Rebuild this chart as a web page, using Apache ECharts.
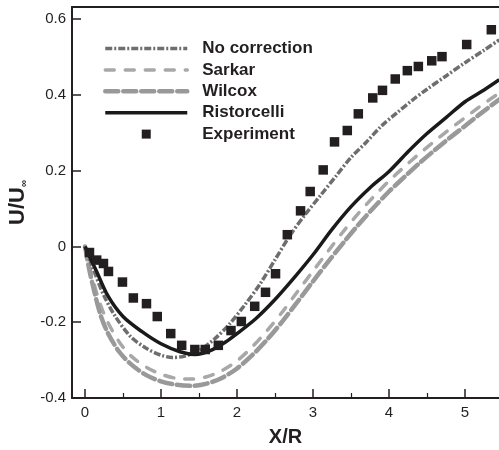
<!DOCTYPE html>
<html>
<head>
<meta charset="utf-8">
<script src="https://cdn.jsdelivr.net/npm/echarts@6/dist/echarts.min.js"></script>
<style>
html,body{margin:0;padding:0;background:#fff;}
#chart{width:499px;height:450px;}
</style>
</head>
<body>
<div id="chart"></div>
<script>
// ---- data ----
const seriesNames = ['No correction', 'Sarkar', 'Wilcox', 'Ristorcelli', 'Experiment'];
const xTickValues = [0, 1, 2, 3, 4, 5];
const xMinorTickValues = [0.5, 1.5, 2.5, 3.5, 4.5];
const yTickValues = [-0.4, -0.2, 0, 0.2, 0.4, 0.6];

const noCorrection = [[0,0],[0.1,-0.055],[0.25,-0.13],[0.4,-0.185],[0.6,-0.238],[0.8,-0.268],[1.0,-0.287],[1.15,-0.293],[1.3,-0.29],[1.5,-0.275],[1.7,-0.245],[1.9,-0.205],[2.1,-0.155],[2.3,-0.1],[2.5,-0.035],[2.7,0.03],[2.9,0.085],[3.1,0.135],[3.3,0.185],[3.5,0.235],[3.7,0.275],[3.9,0.318],[4.1,0.352],[4.3,0.385],[4.5,0.415],[4.75,0.45],[5.0,0.485],[5.25,0.518],[5.45,0.545]];
const sarkar = [[0,0],[0.05,-0.045],[0.1,-0.085],[0.2,-0.152],[0.3,-0.2],[0.45,-0.252],[0.6,-0.288],[0.8,-0.318],[1.0,-0.337],[1.2,-0.348],[1.4,-0.35],[1.6,-0.344],[1.8,-0.328],[2.0,-0.302],[2.2,-0.265],[2.4,-0.221],[2.6,-0.172],[2.8,-0.118],[3.0,-0.065],[3.2,-0.012],[3.4,0.04],[3.6,0.088],[3.8,0.132],[4.0,0.173],[4.2,0.21],[4.4,0.245],[4.6,0.278],[4.8,0.31],[5.0,0.34],[5.2,0.37],[5.45,0.405]];
const wilcox = [[0,0],[0.05,-0.055],[0.1,-0.1],[0.2,-0.178],[0.3,-0.228],[0.45,-0.278],[0.6,-0.31],[0.8,-0.339],[1.0,-0.356],[1.2,-0.365],[1.4,-0.368],[1.6,-0.362],[1.8,-0.347],[2.0,-0.322],[2.2,-0.287],[2.4,-0.245],[2.6,-0.197],[2.8,-0.145],[3.0,-0.092],[3.2,-0.04],[3.4,0.01],[3.6,0.058],[3.8,0.103],[4.0,0.145],[4.2,0.183],[4.4,0.22],[4.6,0.254],[4.8,0.287],[5.0,0.318],[5.2,0.35],[5.45,0.388]];
const ristorcelli = [[0,0],[0.05,-0.022],[0.15,-0.065],[0.3,-0.13],[0.5,-0.185],[0.75,-0.225],[1.0,-0.257],[1.25,-0.278],[1.45,-0.285],[1.65,-0.275],[1.85,-0.252],[2.0,-0.23],[2.25,-0.19],[2.5,-0.14],[2.75,-0.083],[3.0,-0.022],[3.25,0.045],[3.5,0.105],[3.75,0.155],[4.0,0.198],[4.25,0.25],[4.5,0.298],[4.75,0.34],[5.0,0.382],[5.25,0.413],[5.45,0.44]];
const experiment = [[0.059,-0.016],[0.154,-0.036],[0.243,-0.045],[0.309,-0.066],[0.493,-0.094],[0.636,-0.136],[0.809,-0.151],[0.951,-0.185],[1.128,-0.230],[1.272,-0.261],[1.445,-0.272],[1.582,-0.272],[1.754,-0.261],[1.921,-0.222],[2.057,-0.198],[2.233,-0.158],[2.375,-0.121],[2.507,-0.072],[2.662,0.031],[2.836,0.094],[2.963,0.145],[3.134,0.202],[3.283,0.276],[3.451,0.306],[3.596,0.350],[3.786,0.392],[3.914,0.412],[4.082,0.442],[4.241,0.464],[4.386,0.475],[4.562,0.490],[4.697,0.501],[5.022,0.533],[5.346,0.572]];

// ---- chart ----
const FONT = '"Liberation Sans", Arial, sans-serif';
const INK = '#231f20';
const X_MIN = -0.171, X_MAX = 5.447, Y_MIN = -0.4, Y_MAX = 0.632;
const hideSymbol = {opacity: 0, borderWidth: 0};

const styles = {
  noCorrection: {color: '#6e6e6e', width: 3.5, type: [7, 2, 2, 2]},
  sarkar: {color: '#a8a8a8', width: 3.5, type: [9, 11], cap: 'round'},
  wilcox: {color: '#999999', width: 4.5, type: [13, 5], cap: 'round'},
  ristorcelli: {color: '#1a1a1a', width: 3.5}
};

const chart = echarts.init(document.getElementById('chart'), null, {renderer: 'canvas'});
const option = {
  backgroundColor: '#fff',
  animation: false,
  textStyle: {fontFamily: FONT},
  grid: {left: 72, right: 0, top: 7, bottom: 52, containLabel: false, outerBoundsMode: 'none'},
  legend: {
    data: [
      {name: seriesNames[0], itemStyle: hideSymbol, lineStyle: styles.noCorrection},
      {name: seriesNames[1], itemStyle: hideSymbol, lineStyle: styles.sarkar},
      {name: seriesNames[2], itemStyle: hideSymbol, lineStyle: styles.wilcox},
      {name: seriesNames[3], itemStyle: hideSymbol, lineStyle: styles.ristorcelli},
      {name: seriesNames[4], icon: 'path://M0,0L10,0L10,10L0,10Z', itemStyle: {color: INK, opacity: 1}}
    ],
    orient: 'vertical',
    left: 103,
    top: 40,
    padding: 0,
    itemWidth: 82,
    itemHeight: 9,
    itemGap: 4.4,
    symbolKeepAspect: true,
    textStyle: {fontFamily: FONT, fontSize: 17, fontWeight: 'bold', color: INK, lineHeight: 17, padding: [0, 0, 0, 10]}
  },
  xAxis: [
    {
      type: 'value', min: X_MIN, max: X_MAX, position: 'bottom',
      name: 'X/R', nameLocation: 'middle', nameGap: 29,
      nameTextStyle: {fontFamily: FONT, fontSize: 20, fontWeight: 'bold', color: INK},
      axisLine: {show: true, onZero: false, lineStyle: {color: INK, width: 2}},
      axisTick: {show: true, inside: true, length: 9, lineStyle: {color: INK, width: 1.5}, customValues: xTickValues},
      axisLabel: {show: true, fontSize: 15, color: INK, margin: 7, fontFamily: FONT, customValues: xTickValues, formatter: v => String(v)},
      splitLine: {show: false}
    },
    {
      type: 'value', min: X_MIN, max: X_MAX, position: 'bottom',
      axisLine: {show: false, onZero: false},
      axisTick: {show: true, inside: true, length: 5, lineStyle: {color: INK, width: 1.2}, customValues: xMinorTickValues},
      axisLabel: {show: false},
      splitLine: {show: false}
    },
    {
      type: 'value', min: X_MIN, max: X_MAX, position: 'top',
      axisLine: {show: true, onZero: false, lineStyle: {color: INK, width: 2}},
      axisTick: {show: false}, axisLabel: {show: false}, splitLine: {show: false}
    }
  ],
  yAxis: [
    {
      type: 'value', min: Y_MIN, max: Y_MAX, position: 'left',
      name: 'U/U{sub|∞}', nameLocation: 'middle', nameGap: 41, nameRotate: 90,
      nameTextStyle: {fontFamily: FONT, fontSize: 22, fontWeight: 'bold', color: INK,
        rich: {sub: {fontSize: 10, fontFamily: FONT, color: INK, verticalAlign: 'bottom', padding: [9, 0, 0, 0]}}},
      axisLine: {show: true, onZero: false, lineStyle: {color: INK, width: 2}},
      axisTick: {show: true, inside: true, length: 9, lineStyle: {color: INK, width: 1.5}, customValues: yTickValues},
      axisLabel: {show: true, fontSize: 15, color: INK, margin: 6, fontFamily: FONT, customValues: yTickValues,
        formatter: v => String(Math.round(v * 10) / 10)},
      splitLine: {show: false}
    }
  ],
  series: [
    {
      name: seriesNames[0], type: 'line', data: noCorrection, smooth: 0.3, symbol: 'none',
      xAxisIndex: 0, yAxisIndex: 0,
      lineStyle: styles.noCorrection, itemStyle: {color: styles.noCorrection.color}, z: 3
    },
    {
      name: seriesNames[1], type: 'line', data: sarkar, smooth: 0.3, symbol: 'none',
      xAxisIndex: 0, yAxisIndex: 0,
      lineStyle: styles.sarkar, itemStyle: {color: styles.sarkar.color}, z: 2
    },
    {
      name: seriesNames[2], type: 'line', data: wilcox, smooth: 0.3, symbol: 'none',
      xAxisIndex: 0, yAxisIndex: 0,
      lineStyle: styles.wilcox, itemStyle: {color: styles.wilcox.color}, z: 2
    },
    {
      name: seriesNames[3], type: 'line', data: ristorcelli, smooth: 0.3, symbol: 'none',
      xAxisIndex: 0, yAxisIndex: 0,
      lineStyle: styles.ristorcelli, itemStyle: {color: styles.ristorcelli.color}, z: 4
    },
    {
      name: seriesNames[4], type: 'scatter', data: experiment, symbol: 'rect', symbolSize: 9.5,
      xAxisIndex: 0, yAxisIndex: 0,
      itemStyle: {color: INK, opacity: 1}, z: 5
    }
  ]
};
chart.setOption(option);
</script>
</body>
</html>
